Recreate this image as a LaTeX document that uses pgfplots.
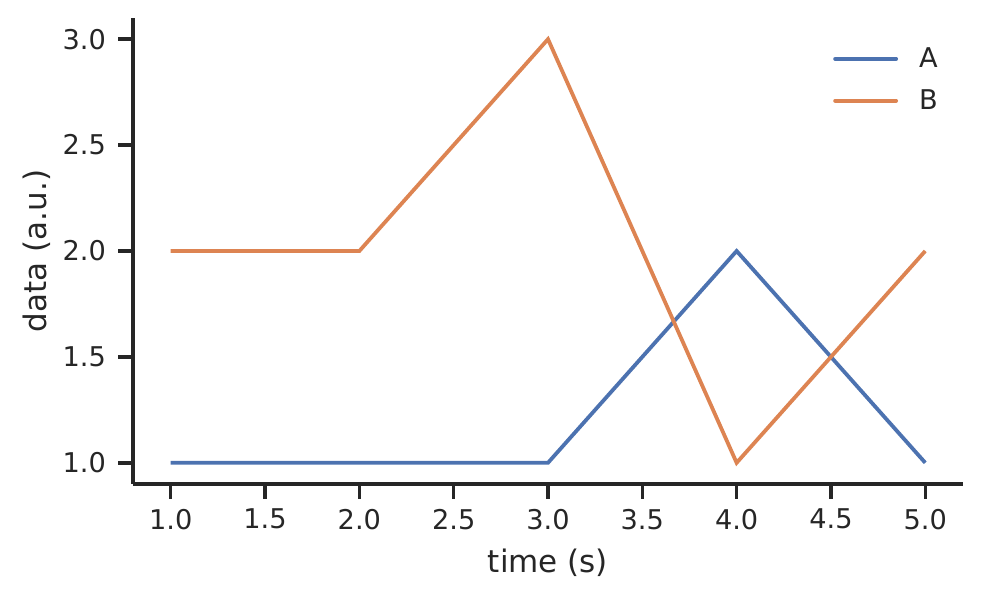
\documentclass[border=0pt]{standalone}
\usepackage{fontspec}
\setmainfont{DejaVu Sans}
\usepackage{pgfplots}
\pgfplotsset{compat=1.18}
\definecolor{sbblue}{HTML}{4C72B0}
\definecolor{sborange}{HTML}{DD8452}
\definecolor{spine}{HTML}{262626}
\begin{document}
\begin{tikzpicture}
\path[use as bounding box] (0,0) rectangle (491pt,299pt);
\begin{axis}[
  at={(66.5pt,57pt)}, anchor=south west,
  scale only axis, width=415pt, height=233pt,
  xmin=0.8, xmax=5.2, ymin=0.9, ymax=3.1,
  axis lines*=left,
  axis line style={line width=1.7pt, color=spine, -},
  xtick={1,1.5,...,5}, ytick={1,1.5,...,3},
  every tick/.style={line width=1.7pt, color=spine},
  tick align=outside, major tick length=7.5pt,
  xticklabel style={/pgf/number format/.cd, fixed, fixed zerofill, precision=1, /tikz/.cd, yshift=-1.5pt},
  yticklabel style={/pgf/number format/.cd, fixed, fixed zerofill, precision=1, /tikz/.cd, xshift=-2.5pt},
  /pgf/number format/assume math mode=true,
  ticklabel style={font=\fontsize{13.6}{16}\selectfont, color=spine},
  xlabel={time (s)}, ylabel={data (a.u.)},
  label style={font=\fontsize{15.5}{18}\selectfont, color=spine},
  xlabel style={yshift=-3pt},
  ylabel style={yshift=-1pt},
  legend style={draw=none, fill=none, at={(0.97,0.97)}, anchor=north east,
    xshift=5pt, yshift=-3.5pt,
    font=\fontsize{13.6}{16}\selectfont, text=spine, row sep=5.5pt},
  legend cell align=left,
  legend image code/.code={\draw[#1, line cap=round] (0cm,0cm) -- (30.5pt,0cm); \path (39pt,0cm);},
]
\addplot[sbblue, line width=1.9pt] coordinates {(1,1) (2,1) (3,1) (4,2) (5,1)};
\addlegendentry{A}
\addplot[sborange, line width=1.9pt] coordinates {(1,2) (2,2) (3,3) (4,1) (5,2)};
\addlegendentry{B}
\end{axis}
\end{tikzpicture}
\end{document}
